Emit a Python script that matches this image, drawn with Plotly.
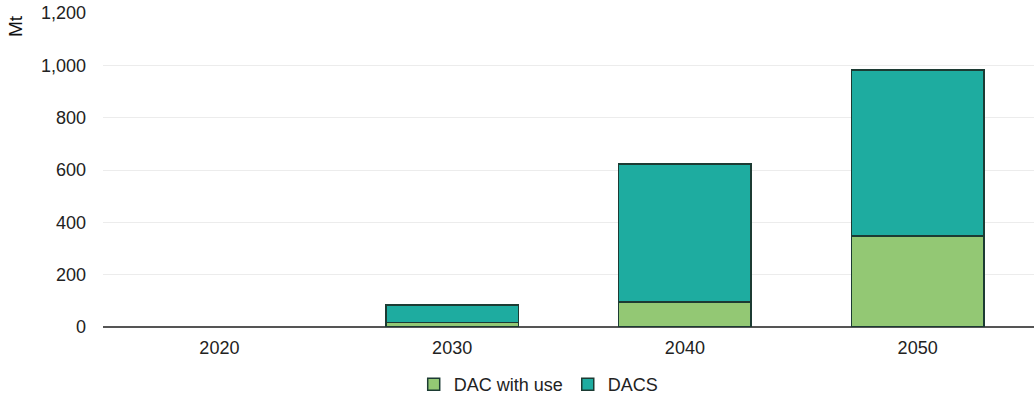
import plotly.graph_objects as go

years = ["2020", "2030", "2040", "2050"]
dac_with_use = [None, 17, 95, 348]
dacs = [None, 68, 527, 634]
y_ticks = [0, 200, 400, 600, 800, 1000, 1200]
y_tick_labels = ["0", "200", "400", "600", "800", "1,000", "1,200"]

green = "#93c874"
teal = "#1eaca0"
edge = "#1c3b33"

fig = go.Figure()
fig.add_trace(go.Bar(x=years, y=dac_with_use, name="DAC with use",
                     marker=dict(color=green, line=dict(color=edge, width=1.5))))
fig.add_trace(go.Bar(x=years, y=dacs, name="DACS",
                     marker=dict(color=teal, line=dict(color=edge, width=1.5))))

fig.update_layout(
    barmode="stack",
    bargap=0.43,
    width=1034, height=403,
    margin=dict(l=103, r=0, t=13, b=73),
    plot_bgcolor="white", paper_bgcolor="white",
    font=dict(family="Liberation Sans, Arial, sans-serif", size=18, color="#222222"),
    legend=dict(orientation="h", x=0.468, xanchor="center", y=-0.125, yanchor="top",
                font=dict(size=18), traceorder="normal", itemwidth=30,
                tracegroupgap=0),
    xaxis=dict(showgrid=False, ticks="", showline=False, tickfont=dict(size=18),
               automargin=False, ticklabelstandoff=8),
    yaxis=dict(range=[0, 1200], tickvals=y_ticks, ticktext=y_tick_labels,
               gridcolor="#ececec", gridwidth=1, zeroline=True, zerolinecolor="#555555",
               zerolinewidth=2, ticks="", ticklabelstandoff=16, tickfont=dict(size=18),
               automargin=False, ticklabeloverflow="allow"),
    annotations=[dict(text="Mt", textangle=-90, xref="paper", yref="paper",
                      x=-0.0945, y=1.0, xanchor="center", yanchor="top",
                      showarrow=False, font=dict(size=19, color="#111111"))],
)
fig.write_html("out.html",
               config={"displayModeBar": False},
               post_script="document.body.style.margin='0';document.body.style.overflow='hidden';")
